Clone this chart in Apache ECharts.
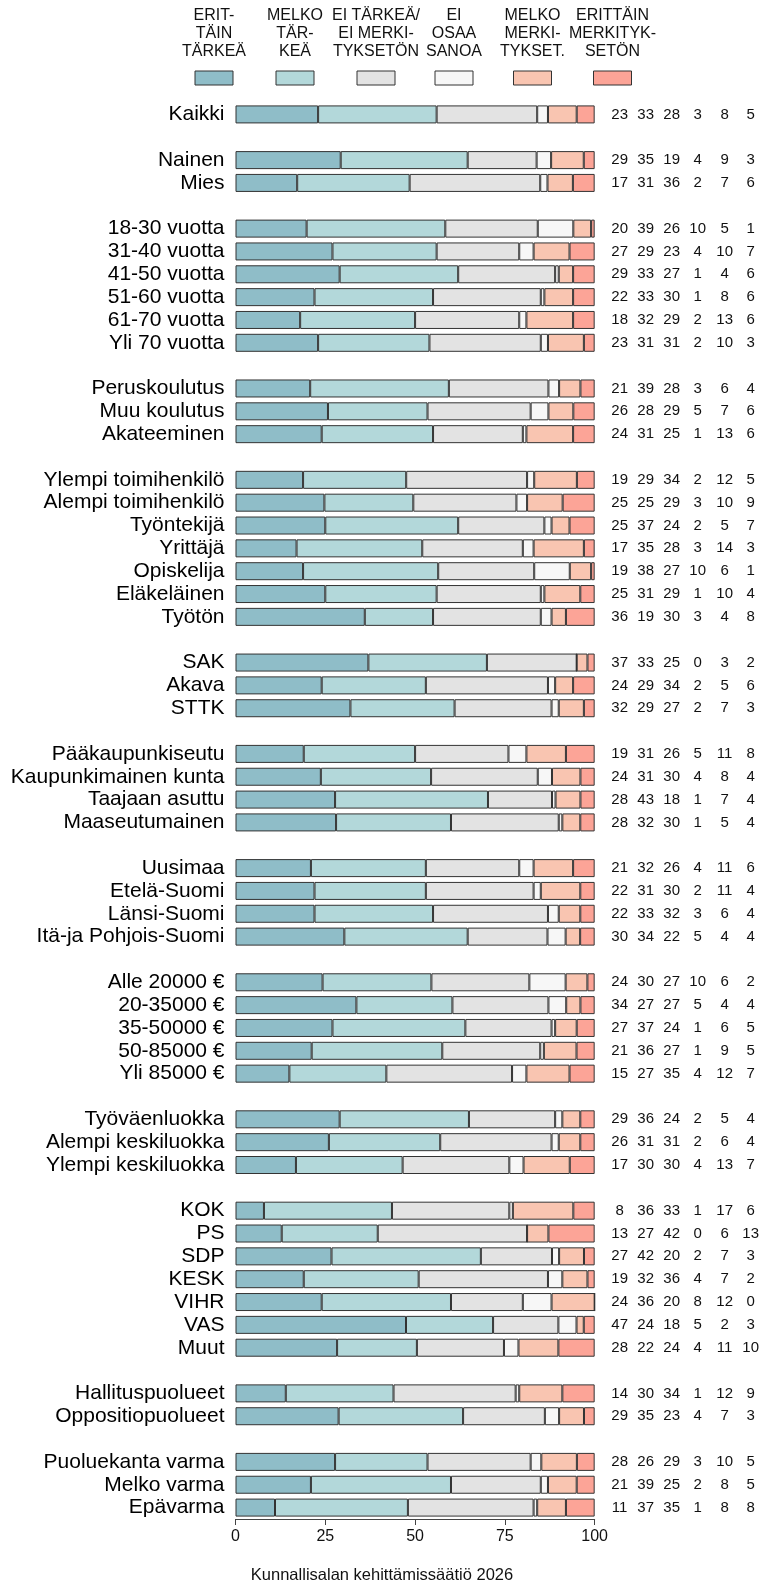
<!DOCTYPE html>
<html>
<head>
<meta charset="utf-8">
<script src="https://cdn.jsdelivr.net/npm/echarts@6/dist/echarts.min.js"></script>
<style>
  html, body { margin: 0; padding: 0; background: #fff; }
  #chart { width: 762px; height: 1584px; }
</style>
</head>
<body>
<div id="chart"></div>
<script>
// rivien nimet ja ryhmien koot (ryhmien väliin jätetään tyhjä rivi)
const categories = [
  'Kaikki',
  'Nainen', 'Mies',
  '18-30 vuotta', '31-40 vuotta', '41-50 vuotta', '51-60 vuotta', '61-70 vuotta', 'Yli 70 vuotta',
  'Peruskoulutus', 'Muu koulutus', 'Akateeminen',
  'Ylempi toimihenkilö', 'Alempi toimihenkilö', 'Työntekijä', 'Yrittäjä', 'Opiskelija', 'Eläkeläinen', 'Työtön',
  'SAK', 'Akava', 'STTK',
  'Pääkaupunkiseutu', 'Kaupunkimainen kunta', 'Taajaan asuttu', 'Maaseutumainen',
  'Uusimaa', 'Etelä-Suomi', 'Länsi-Suomi', 'Itä-ja Pohjois-Suomi',
  'Alle 20000 €', '20-35000 €', '35-50000 €', '50-85000 €', 'Yli 85000 €',
  'Työväenluokka', 'Alempi keskiluokka', 'Ylempi keskiluokka',
  'KOK', 'PS', 'SDP', 'KESK', 'VIHR', 'VAS', 'Muut',
  'Hallituspuolueet', 'Oppositiopuolueet',
  'Puoluekanta varma', 'Melko varma', 'Epävarma'
];
const groupSizes = [1, 2, 6, 3, 7, 3, 4, 4, 5, 3, 7, 2, 3];

const seriesNames = ['Erittäin tärkeä', 'Melko tärkeä', 'Ei tärkeä / ei merkityksetön', 'Ei osaa sanoa', 'Melko merkityksetön', 'Erittäin merkityksetön'];
const legendLines = [
  'ERIT-\nTÄIN\nTÄRKEÄ',
  'MELKO\nTÄR-\nKEÄ',
  'EI TÄRKEÄ/\nEI MERKI-\nTYKSETÖN',
  'EI\nOSAA\nSANOA',
  'MELKO\nMERKI-\nTYKSET.',
  'ERITTÄIN\nMERKITYK-\nSETÖN'
];
const colors = ['#8fbdc8', '#b3d8da', '#e3e3e3', '#f7f7f7', '#f9c5b1', '#fca497'];

// prosentit
const erittainTarkea = [23, 29, 17, 20, 27, 29, 22, 18, 23, 21, 26, 24, 19, 25, 25, 17, 19, 25, 36, 37, 24, 32, 19, 24, 28, 28, 21, 22, 22, 30, 24, 34, 27, 21, 15, 29, 26, 17, 8, 13, 27, 19, 24, 47, 28, 14, 29, 28, 21, 11];
const melkoTarkea    = [33, 35, 31, 39, 29, 33, 33, 32, 31, 39, 28, 31, 29, 25, 37, 35, 38, 31, 19, 33, 29, 29, 31, 31, 43, 32, 32, 31, 33, 34, 30, 27, 37, 36, 27, 36, 31, 30, 36, 27, 42, 32, 36, 24, 22, 30, 35, 26, 39, 37];
const eiTarkea       = [28, 19, 36, 26, 23, 27, 30, 29, 31, 28, 29, 25, 34, 29, 24, 28, 27, 29, 30, 25, 34, 27, 26, 30, 18, 30, 26, 30, 32, 22, 27, 27, 24, 27, 35, 24, 31, 30, 33, 42, 20, 36, 20, 18, 24, 34, 23, 29, 25, 35];
const eiOsaa         = [3, 4, 2, 10, 4, 1, 1, 2, 2, 3, 5, 1, 2, 3, 2, 3, 10, 1, 3, 0, 2, 2, 5, 4, 1, 1, 4, 2, 3, 5, 10, 5, 1, 1, 4, 2, 2, 4, 1, 0, 2, 4, 8, 5, 4, 1, 4, 3, 2, 1];
const melkoMerk      = [8, 9, 7, 5, 10, 4, 8, 13, 10, 6, 7, 13, 12, 10, 5, 14, 6, 10, 4, 3, 5, 7, 11, 8, 7, 5, 11, 11, 6, 4, 6, 4, 6, 9, 12, 5, 6, 13, 17, 6, 7, 7, 12, 2, 11, 12, 7, 10, 8, 8];
const erittainMerk   = [5, 3, 6, 1, 7, 6, 6, 6, 3, 4, 6, 6, 5, 9, 7, 3, 1, 4, 8, 2, 6, 3, 8, 4, 4, 4, 6, 4, 4, 4, 2, 4, 5, 5, 7, 4, 4, 7, 6, 13, 3, 2, 0, 3, 10, 9, 3, 5, 5, 8];

const xTicks = [0, 25, 50, 75, 100];

const valueSets = [erittainTarkea, melkoTarkea, eiTarkea, eiOsaa, melkoMerk, erittainMerk];
const numberCols = [620, 646, 672, 698, 725, 751];   // oikean reunan lukujen sarakkeet (px)

// rivipaikat: ryhmien väliin tyhjä paikka
const slots = [];   // indeksi categories-taulukkoon tai -1
let k = 0;
groupSizes.forEach((n, g) => {
  if (g > 0) slots.push(-1);
  for (let i = 0; i < n; i++) slots.push(k++);
});
const slotIds = slots.map((r, i) => r < 0 ? '#' + i : categories[r]);

// pylväät skaalataan summaan 100 (pyöristetyt luvut)
const rowSum = categories.map((_, r) => valueSets.reduce((s, v) => s + v[r], 0));

const gridLeft = 235.5, gridTop = 103, gridW = 359.5, gridH = 1416;
const font = 'Liberation Sans, Arial, Helvetica, sans-serif';

const chart = echarts.init(document.getElementById('chart'));

const yAxes = [{
  type: 'category',
  inverse: true,
  data: slotIds,
  axisLine: { show: false },
  axisTick: { show: false },
  axisLabel: {
    interval: 0,
    margin: 11,
    fontSize: 21,
    fontFamily: font,
    color: '#000',
    formatter: v => v.startsWith('#') ? '' : v
  }
}];
valueSets.forEach((vals, c) => {
  yAxes.push({
    type: 'category',
    inverse: true,
    position: 'right',
    offset: numberCols[c] - (gridLeft + gridW),
    data: slotIds,
    axisLine: { show: false },
    axisTick: { show: false },
    axisLabel: {
      interval: 0,
      margin: 0,
      align: 'center',
      fontSize: 15,
      fontFamily: font,
      color: '#111',
      formatter: (v, idx) => slots[idx] < 0 ? '' : String(vals[slots[idx]])
    }
  });
});

const series = valueSets.map((vals, s) => ({
  name: seriesNames[s],
  type: 'bar',
  stack: 'total',
  yAxisIndex: 0,
  barWidth: 18,
  silent: true,
  itemStyle: { color: colors[s], borderColor: '#333', borderWidth: 1 },
  data: slots.map(r => r < 0 ? '-' : vals[r] * 100 / rowSum[r])
}));

// selite ylhäällä
const legendX = [214, 295, 376, 454, 532.5, 612.5];
const graphic = [];
legendLines.forEach((txt, i) => {
  graphic.push({
    type: 'text',
    x: legendX[i], y: 33.5,
    style: {
      text: txt, textAlign: 'center', textVerticalAlign: 'middle',
      fontSize: 16, fontFamily: font, lineHeight: 18, fill: '#111'
    }
  });
  graphic.push({
    type: 'rect',
    shape: { x: legendX[i] - 19, y: 71, width: 38, height: 14 },
    style: { fill: colors[i], stroke: '#333', lineWidth: 1 }
  });
});
graphic.push({
  type: 'text',
  x: 382, y: 1575,
  style: {
    text: 'Kunnallisalan kehittämissäätiö 2026', textAlign: 'center', textVerticalAlign: 'middle',
    fontSize: 16.5, fontFamily: font, fill: '#111'
  }
});

chart.setOption({
  animation: false,
  backgroundColor: '#fff',
  grid: { left: gridLeft, top: gridTop, width: gridW, height: gridH },
  xAxis: {
    type: 'value',
    min: xTicks[0],
    max: xTicks[xTicks.length - 1],
    interval: 25,
    axisLine: { show: true, lineStyle: { color: '#444' } },
    axisTick: { show: true, length: 6, lineStyle: { color: '#444' } },
    splitLine: { show: false },
    axisLabel: { fontSize: 16, fontFamily: font, color: '#111', margin: 10 }
  },
  yAxis: yAxes,
  series: series,
  graphic: graphic
});
</script>
</body>
</html>
